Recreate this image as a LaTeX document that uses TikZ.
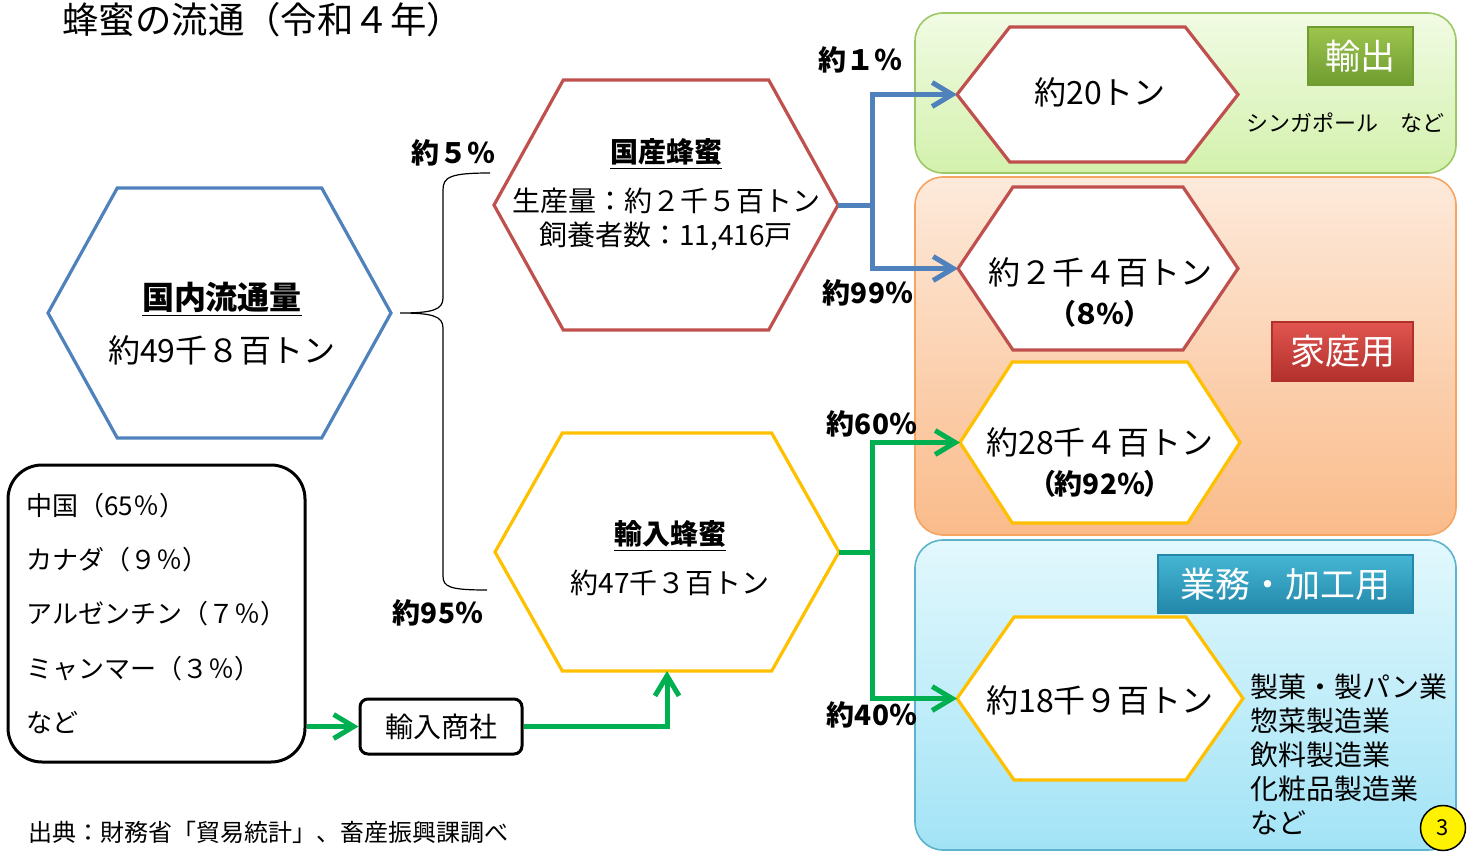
\documentclass[tikz,border=0pt]{standalone}
\usepackage{fontspec}
\setmainfont{Noto Sans CJK JP}
\newfontfamily\propjp[RawFeature=+palt]{Noto Sans CJK JP}
\usetikzlibrary{arrows.meta,positioning,shapes.symbols,calc}

\definecolor{hexblue}{HTML}{4F81BD}
\definecolor{hexred}{HTML}{C0504D}
\definecolor{hexgold}{HTML}{FFC000}
\definecolor{flowgreen}{HTML}{00B050}
\definecolor{exportline}{HTML}{9CC866}
\definecolor{exporttop}{HTML}{F1FBE4}
\definecolor{exportbot}{HTML}{D3F1AC}
\definecolor{homeline}{HTML}{F5A462}
\definecolor{hometop}{HTML}{FDEADB}
\definecolor{homebot}{HTML}{FABB8A}
\definecolor{bizline}{HTML}{5DB3CE}
\definecolor{biztop}{HTML}{E2F8FD}
\definecolor{bizbot}{HTML}{A2E3F6}
\definecolor{exporttagtop}{HTML}{9DC44D}
\definecolor{exporttagbot}{HTML}{6F9C30}
\definecolor{hometagtop}{HTML}{E1554F}
\definecolor{hometagbot}{HTML}{B2302C}
\definecolor{biztagtop}{HTML}{45B6D3}
\definecolor{biztagbot}{HTML}{2387AA}

\begin{document}
\begin{tikzpicture}[
  x=0.5pt,y=-0.5pt,
  hex/.style={signal, signal to=east and west, draw, line width=1.6pt, fill=white, inner sep=0pt, outer sep=0pt},
  zone/.style={draw, rounded corners=14pt, line width=0.8pt, inner sep=0pt},
  tag/.style={draw, line width=0.6pt, inner sep=0pt, text=white, font=\fontsize{17.5}{20}\selectfont},
  amount/.style={align=center, inner sep=0pt, font=\fontsize{16}{19}\selectfont},
  pct/.style={inner sep=0pt, font=\fontsize{14}{17}\selectfont\bfseries},
  textline/.style={inner sep=0pt, font=\fontsize{14}{17}\selectfont},
  arrb/.style={-{Straight Barb[length=10pt,width=12pt]}, line width=2.5pt, draw=hexblue},
  arrg/.style={-{Straight Barb[length=10pt,width=12pt]}, line width=2.5pt, draw=flowgreen}
]
\useasboundingbox (0,0) rectangle (1473,857);

% destination zones
\node[zone, draw=exportline, top color=exporttop, bottom color=exportbot, minimum width=270.5pt, minimum height=80pt] (exportzone) at (1185.5,93) {};
\node[zone, draw=homeline, top color=hometop, bottom color=homebot, minimum width=270.5pt, minimum height=179pt] (homezone) at (1185.5,356) {};
\node[zone, draw=bizline, top color=biztop, bottom color=bizbot, minimum width=270.5pt, minimum height=155pt] (bizzone) at (1185.5,695) {};
\node[tag, draw=exporttagbot, top color=exporttagtop, bottom color=exporttagbot, minimum width=52.5pt, minimum height=29pt] (exporttag) at (1360.5,56) {輸出};
\node[tag, draw=hometagbot, top color=hometagtop, bottom color=hometagbot, minimum width=70.5pt, minimum height=29.5pt] (hometag) at (1342.5,351.5) {家庭用};
\node[tag, draw=biztagbot, top color=biztagtop, bottom color=biztagbot, minimum width=127.5pt, minimum height=29pt] (biztag) at (1285.5,584) {業務・加工用};

% hexagons
\node[hex, draw=hexblue, minimum width=171.5pt, minimum height=125pt, signal pointer angle=122] (kokunai) at (219.5,313) {};
\node[hex, draw=hexred, minimum width=172pt, minimum height=125pt, signal pointer angle=122] (kokusan) at (666,205) {};
\node[hex, draw=hexgold, minimum width=172pt, minimum height=119pt, signal pointer angle=121] (yunyu) at (667,552) {};
\node[hex, draw=hexred, minimum width=140.5pt, minimum height=67.5pt, signal pointer angle=104] (export) at (1097.5,94.5) {};
\node[hex, draw=hexred, minimum width=140pt, minimum height=81.5pt, signal pointer angle=112] (homedom) at (1098,268.5) {};
\node[hex, draw=hexgold, minimum width=140pt, minimum height=80.5pt, signal pointer angle=114] (homeimp) at (1100,442.5) {};
\node[hex, draw=hexgold, minimum width=143pt, minimum height=81.5pt, signal pointer angle=110] (bizimp) at (1100,698.5) {};

% texts in the hexagons
\node[amount] (kokunai-t) at (222,323.5) {\textbf{\underline{国内流通量}}\\[7.3pt]約49千８百トン};
\node[amount, font=\fontsize{14}{17}\selectfont] (kokusan-t) at (666,194.5) {\textbf{\underline{国産蜂蜜}}\\[7.5pt]生産量：約２千５百トン\\飼養者数：11,416戸};
\node[amount, font=\fontsize{14}{17}\selectfont] (yunyu-t) at (670,558.5) {\textbf{\underline{輸入蜂蜜}}\\[7.5pt]約47千３百トン};
\node[amount] (export-t) at (1100,92) {約20トン};
\node[amount] (homedom-t) at (1100,292) {約２千４百トン\\[1pt]{\propjp\fontsize{14}{17}\selectfont\bfseries（８％）}};
\node[amount] (homeimp-t) at (1100,462.5) {約28千４百トン\\[1pt]{\propjp\fontsize{14}{17}\selectfont\bfseries（約92％）}};
\node[amount] (bizimp-t) at (1100,700) {約18千９百トン};

% other boxes and texts
\node[anchor=west, inner sep=0pt, font=\fontsize{18.2}{21}\selectfont] (title) at (62,20) {蜂蜜の流通（令和４年）};
\node[draw, line width=1.5pt, rounded corners=17pt, minimum width=148.5pt, minimum height=148.5pt, text width=130pt, inner xsep=9.25pt, align=left, font=\fontsize{13}{27.1}\selectfont] (origin) at (156.5,613.5) {中国（65％）\\カナダ（９％）\\アルゼンチン（７％）\\ミャンマー（３％）\\など};
\node[textline, draw, line width=1.5pt, rounded corners=4pt, minimum width=81pt, minimum height=27.5pt] (shosha) at (441,726.5) {輸入商社};
\node[inner sep=0pt, font=\fontsize{11}{13}\selectfont] (dest) at (1345,123) {シンガポール　など};
\node[anchor=west, align=left, inner sep=0pt, font=\fontsize{14}{17.1}\selectfont] (uses) at (1250,754.5) {製菓・製パン業\\惣菜製造業\\飲料製造業\\化粧品製造業\\など};
\node[anchor=west, inner sep=0pt, font=\fontsize{12}{14}\selectfont] (source) at (28,832) {出典：財務省「貿易統計」、畜産振興課調べ};
\node[circle, draw, fill=yellow, line width=0.75pt, minimum size=22.5pt, inner sep=0pt, font=\fontsize{11}{13}\selectfont] (page) at (1443,828) {3};

% shares
\node[pct] (p5) at (453,153) {約５％};
\node[pct] (p95) at (438,613) {約95％};
\node[pct] (p1) at (860,60) {約１％};
\node[pct] (p99) at (868,293) {約99％};
\node[pct] (p60) at (872,424) {約60％};
\node[pct] (p40) at (872,715) {約40％};

% brace
\draw[line width=0.6pt] (490,173) .. controls (450,173) and (443,177) .. (443,190) -- (443,298) .. controls (443,310) and (432,313) .. (400,313) .. controls (432,313) and (443,316) .. (443,328) -- (443,576) .. controls (443,587) and (450,590) .. (487,590);

% flows
\coordinate (bjoin) at (872,205);
\coordinate (gjoin) at (872,552);
\draw[line width=2.5pt, hexblue] (kokusan.east) -- (bjoin);
\draw[arrb] (bjoin) |- (export.west);
\draw[arrb] (bjoin) |- (homedom.west);
\draw[line width=2.5pt, flowgreen] (yunyu.east) -- (gjoin);
\draw[arrg] (gjoin) |- (homeimp.west);
\draw[arrg] (gjoin) |- (bizimp.west);
\draw[arrg] (origin.east |- shosha.west) -- (shosha.west);
\draw[arrg] (shosha.east) -| (yunyu.south);
\end{tikzpicture}
\end{document}
